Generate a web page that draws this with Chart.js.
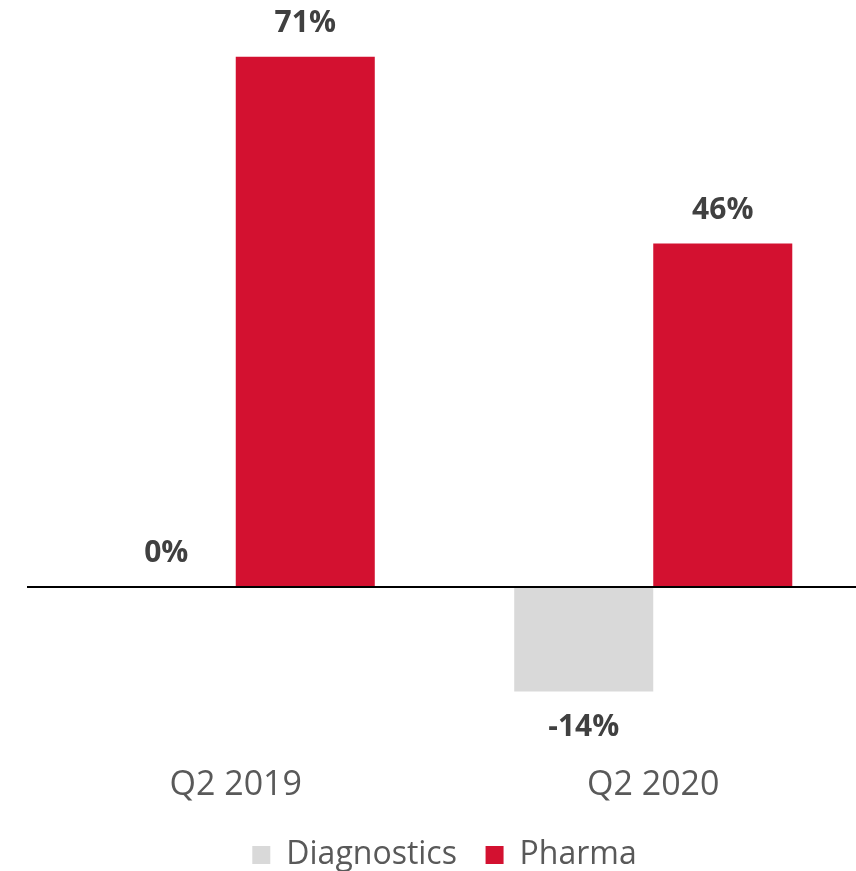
<!DOCTYPE html>
<html>
<head>
<meta charset="utf-8">
<script src="https://cdn.jsdelivr.net/npm/chart.js@4/dist/chart.umd.min.js"></script>
<style>
  html, body { margin: 0; padding: 0; background: #fff; overflow: hidden; }
  #wrap { width: 862px; height: 871px; }
</style>
</head>
<body>
<div id="wrap"><canvas id="chart"></canvas></div>
<script>
const categories = ["Q2 2019", "Q2 2020"];
const diagnostics = [0, -14];
const pharma = [71, 46];

const FONT = "'Open Sans', sans-serif";

// labels above / below the bars
const valueLabels = {
  id: "valueLabels",
  afterDatasetsDraw(chart) {
    const ctx = chart.ctx;
    ctx.save();
    ctx.font = "bold 30px " + FONT;
    ctx.fillStyle = "#404040";
    ctx.textAlign = "center";
    ctx.textBaseline = "middle";
    chart.data.datasets.forEach((ds, i) => {
      chart.getDatasetMeta(i).data.forEach((bar, j) => {
        const v = ds.data[j];
        const y = v < 0 ? bar.y + 36 : bar.y - 33;
        ctx.fillText(v + "%", bar.x, y);
      });
    });
    ctx.restore();
  }
};

new Chart(document.getElementById("chart"), {
  type: "bar",
  data: {
    labels: categories,
    datasets: [
      { label: "Diagnostics", data: diagnostics, backgroundColor: "#D9D9D9" },
      { label: "Pharma", data: pharma, backgroundColor: "#D31130" }
    ]
  },
  options: {
    responsive: true,
    maintainAspectRatio: false,
    animation: false,
    layout: { padding: { left: 27, right: 0, top: 27, bottom: -10 } },
    datasets: { bar: { categoryPercentage: 0.666, barPercentage: 1 } },
    scales: {
      x: {
        grid: { display: false },
        border: { display: false },
        ticks: { color: "#595959", font: { family: FONT, size: 34 }, padding: 21 }
      },
      y: {
        display: true,
        min: -20,
        max: 75,
        ticks: { display: false },
        border: { display: false },
        grid: {
          drawTicks: false,
          color: c => c.tick.value === 0 ? "#000000" : "rgba(0,0,0,0)",
          lineWidth: 2
        }
      }
    },
    plugins: {
      legend: {
        position: "bottom",
        labels: {
          color: "#595959",
          font: { family: FONT, size: 32 },
          boxWidth: 18,
          boxHeight: 18,
          padding: 12,
          // a little extra room after the first item
          generateLabels: chart => Chart.defaults.plugins.legend.labels.generateLabels(chart)
            .map((item, i) => i === 0 ? Object.assign(item, { text: item.text + "  " }) : item)
        }
      },
      tooltip: { enabled: false }
    }
  },
  plugins: [valueLabels]
});
</script>
</body>
</html>
